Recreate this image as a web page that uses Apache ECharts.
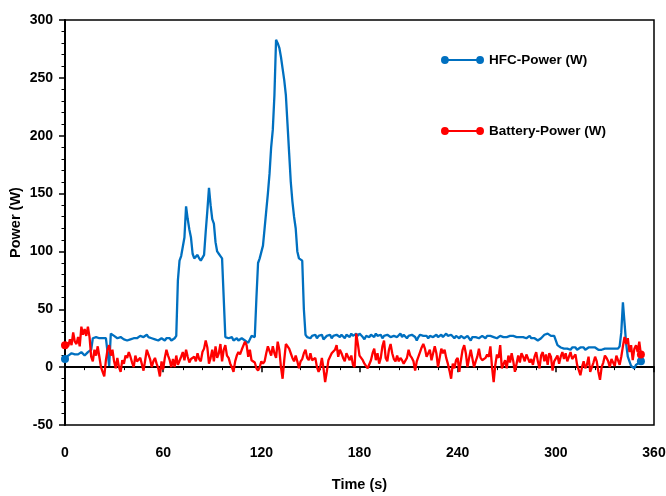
<!DOCTYPE html>
<html>
<head>
<meta charset="utf-8">
<script src="https://cdn.jsdelivr.net/npm/echarts@6/dist/echarts.min.js"></script>
<style>
  html, body { margin: 0; padding: 0; background: #ffffff; }
  #chart { width: 666px; height: 496px; }
</style>
</head>
<body>
<div id="chart"></div>
<script>
// Series names shown in the legend
const seriesNames = ['HFC-Power (W)', 'Battery-Power (W)'];

// Axis tick values
const xTicks = [0, 60, 120, 180, 240, 300, 360];
const yTicks = [-50, 0, 50, 100, 150, 200, 250, 300];

// Fuel cell power, one sample per second (W)
const hfcPower = [
  7, 8, 10, 11, 12, 11, 11, 10, 11, 12,
  13, 12, 10, 11, 13, 14, 15, 25, 25, 26,
  25, 25, 26, 25, 25, 25, 24, 1, 29, 28,
  27, 28, 25, 25, 26, 25, 24, 24, 23, 23,
  24, 23, 25, 26, 25, 26, 27, 28, 26, 27,
  28, 26, 27, 25, 26, 24, 25, 23, 24, 25,
  24, 23, 25, 24, 25, 23, 24, 25, 27, 75,
  92, 96, 97, 112, 139, 128, 119, 112, 98, 94,
  94, 97, 94, 92, 93, 97, 117, 135, 155, 140,
  128, 124, 108, 100, 98, 96, 94, 94, 26, 25,
  25, 24, 26, 23, 24, 25, 23, 22, 25, 24,
  23, 22, 21, 24, 27, 28, 26, 60, 90, 94,
  95, 105, 120, 135, 150, 167, 190, 205, 235, 283,
  280, 276, 268, 258, 248, 235, 210, 185, 160, 143,
  130, 120, 100, 94, 93, 92, 50, 28, 26, 25,
  25, 27, 26, 28, 25, 27, 26, 28, 24, 23,
  27, 26, 28, 25, 27, 26, 28, 27, 26, 28,
  27, 25, 28, 27, 26, 29, 27, 28, 29, 27,
  29, 28, 26, 24, 27, 28, 26, 28, 27, 26,
  29, 27, 26, 28, 25, 27, 26, 28, 27, 26,
  25, 27, 28, 26, 27, 29, 26, 28, 27, 25,
  27, 26, 28, 27, 26, 23, 26, 28, 29, 27,
  26, 27, 25, 27, 28, 26, 27, 28, 26, 27,
  28, 26, 27, 29, 27, 26, 28, 27, 25, 27,
  26, 25, 27, 26, 25, 26, 27, 25, 23, 26,
  27, 26, 27, 25, 26, 27, 26, 25, 27, 26,
  27, 28, 26, 27, 25, 26, 27, 28, 26, 25,
  26, 25, 27, 26, 27, 28, 26, 27, 26, 27,
  26, 27, 25, 26, 27, 25, 24, 25, 24, 23,
  24, 25, 26, 28, 27, 29, 28, 27, 26, 27,
  26, 19, 18, 17, 17, 16, 17, 16, 17, 15,
  17, 16, 17, 15, 16, 17, 16, 17, 15, 16,
  17, 16, 17, 16, 17, 16, 15, 16, 15, 14,
  16, 17, 16, 17, 16, 17, 16, 17, 16, 18,
  30, 56, 38, 20, 9, 5, 1, 0, -1, 2,
  3, 4, 5
];

// Battery power, one sample per second (W)
const batteryPower = [
  19, 21, 18, 24, 19, 30, 22, 20, 26, 18,
  35, 28, 33, 27, 35, 26, 9, 5, 15, 10,
  18, 9, 0, -4, -8, 6, 15, 19, 10, 15,
  5, -1, 8, 0, -4, 6, 3, 10, 8, 13,
  9, 4, 0, 10, 5, 6, 8, 7, -3, 6,
  15, 16, 7, 0, 5, 8, 3, -1, -8, 5,
  -2, 8, 15, 10, 6, 0, 7, 0, 10, 2,
  1, 9, 13, 6, 15, 9, 4, 7, 8, 9,
  5, 12, 7, 5, 13, 16, 23, 17, 3, 8,
  15, 5, 18, 8, 12, 20, 5, 15, 19, 10,
  8, 3, 0, -4, 5, 10, 13, 11, 15, 14,
  22, 19, 9, 15, 6, 7, 4, -1, -3, 0,
  5, 3, 5, 12, 18, 19, 10, 18, 12, 8,
  22, 15, 0, -10, 6, 20, 19, 16, 12, 8,
  5, 10, 5, -1, 5, 7, 12, 15, 8, 6,
  12, 6, 5, 8, 0, -4, 0, 8, -1, -13,
  -4, 6, 9, 12, 12, 15, 19, 9, 15, 12,
  8, 5, 12, 9, 6, 10, 2, 0, 29, 20,
  10, 11, 6, 3, 2, -1, 0, 6, 12, 16,
  6, 12, 3, 8, 18, 23, 8, 5, 15, 20,
  12, 7, 5, 10, 5, 8, 6, 3, 2, 8,
  15, 10, 8, 5, -3, 5, 6, 13, 17, 20,
  16, 9, 8, 15, 6, 12, 18, 12, 0, 8,
  16, 12, 15, 8, 3, -3, -10, 3, -1, 6,
  8, -4, 6, 15, 19, 12, 0, 8, 15, 16,
  0, 5, 9, 16, 8, 6, 5, 8, 11, 9,
  18, 0, -13, 2, 11, 8, 19, -1, 0, 6,
  -1, 10, 4, 12, 5, -4, 3, 10, 4, 12,
  9, 5, 11, 10, 4, 7, 2, 9, 13, 5,
  -1, 10, 13, 5, 11, 2, 12, 9, -3, 5,
  6, 10, 3, 9, 13, 7, 12, 5, 6, 13,
  7, 6, 11, 2, 1, -7, 0, 5, -1, 2,
  9, -4, -5, 4, 9, 5, -4, -11, 0, 4,
  10, 8, 5, 0, 7, 4, 1, 10, 6, 2,
  9, 18, 26, 20, 25, 13, 19, 6, 16, 19,
  13, 22, 11
];

// Sample times in seconds (1 s sampling)
const timeSeconds = hfcPower.map((_, i) => i);

const colors = ['#0070C0', '#FF0000'];
const fontFamily = "'Liberation Sans', Arial, sans-serif";

const pairs = (values) => values.map((v, i) => [timeSeconds[i], v]);
// Markers only on the first and last samples
const endMarkers = (values) => (val, params) =>
  (params.dataIndex === 0 || params.dataIndex === values.length - 1) ? 8 : 0;

// Legend glyph: a short line with a dot at each end
const legendIcon = 'path://M4,0A4,4,0,1,1,4,8A4,4,0,1,1,4,0ZM6,3L38,3L38,5L6,5ZM40,0A4,4,0,1,1,40,8A4,4,0,1,1,40,0Z';

const xStep = xTicks[1] - xTicks[0];
const yStep = yTicks[1] - yTicks[0];

const chart = echarts.init(document.getElementById('chart'), null, { renderer: 'canvas' });

const legendBase = {
  orient: 'vertical',
  left: 441,
  padding: 0,
  icon: legendIcon,
  itemWidth: 43,
  itemHeight: 8,
  textStyle: { color: '#000', fontSize: 13.5, fontWeight: 'bold', fontFamily }
};

chart.setOption({
  animation: false,
  backgroundColor: '#ffffff',
  color: colors,
  grid: {
    left: 65, right: 12, top: 20, bottom: 71,
    show: true, borderColor: '#000', borderWidth: 1.5,
    containLabel: false, outerBoundsMode: 'none'
  },
  legend: [
    Object.assign({}, legendBase, { top: 53, data: [seriesNames[0]] }),
    Object.assign({}, legendBase, { top: 124, data: [seriesNames[1]] })
  ],
  xAxis: [
    {
      // Labels and title along the bottom edge
      type: 'value',
      position: 'bottom',
      min: xTicks[0], max: xTicks[xTicks.length - 1], interval: xStep,
      name: 'Time (s)', nameLocation: 'middle', nameGap: 52,
      nameMoveOverlap: false,
      nameTextStyle: { color: '#000', fontSize: 14.5, fontWeight: 'bold', fontFamily },
      axisLine: { show: false, onZero: false },
      axisTick: { show: false },
      splitLine: { show: false },
      axisLabel: { color: '#000', fontSize: 14, fontWeight: 'bold', fontFamily, margin: 21 }
    },
    {
      // Zero line with its ticks
      type: 'value',
      position: 'bottom',
      min: xTicks[0], max: xTicks[xTicks.length - 1], interval: xStep,
      axisLine: { show: true, onZero: true, lineStyle: { color: '#000', width: 2 } },
      axisTick: { show: true, length: 5, lineStyle: { color: '#000', width: 1.5 } },
      minorTick: { show: true, splitNumber: 5, length: 3, lineStyle: { color: '#000', width: 1 } },
      axisLabel: { show: false },
      splitLine: { show: false }
    }
  ],
  yAxis: {
    type: 'value',
    min: yTicks[0], max: yTicks[yTicks.length - 1], interval: yStep,
    name: 'Power (W)', nameLocation: 'middle', nameGap: 42,
    nameMoveOverlap: false,
    nameTextStyle: { color: '#000', fontSize: 14.5, fontWeight: 'bold', fontFamily },
    axisLine: { show: true, onZero: false, lineStyle: { color: '#000', width: 2 } },
    axisTick: { show: true, length: 6, lineStyle: { color: '#000', width: 1.5 } },
    minorTick: { show: true, splitNumber: 5, length: 3.5, lineStyle: { color: '#000', width: 1 } },
    splitLine: { show: false },
    axisLabel: { color: '#000', fontSize: 14, fontWeight: 'bold', fontFamily, margin: 12 }
  },
  series: [
    {
      name: seriesNames[0], type: 'line', xAxisIndex: 0,
      data: pairs(hfcPower),
      showSymbol: true, symbol: 'circle', symbolSize: endMarkers(hfcPower),
      lineStyle: { width: 2.3, color: colors[0] },
      itemStyle: { color: colors[0] }
    },
    {
      name: seriesNames[1], type: 'line', xAxisIndex: 0,
      data: pairs(batteryPower),
      showSymbol: true, symbol: 'circle', symbolSize: endMarkers(batteryPower),
      lineStyle: { width: 2.3, color: colors[1] },
      itemStyle: { color: colors[1] }
    }
  ]
});
</script>
</body>
</html>
